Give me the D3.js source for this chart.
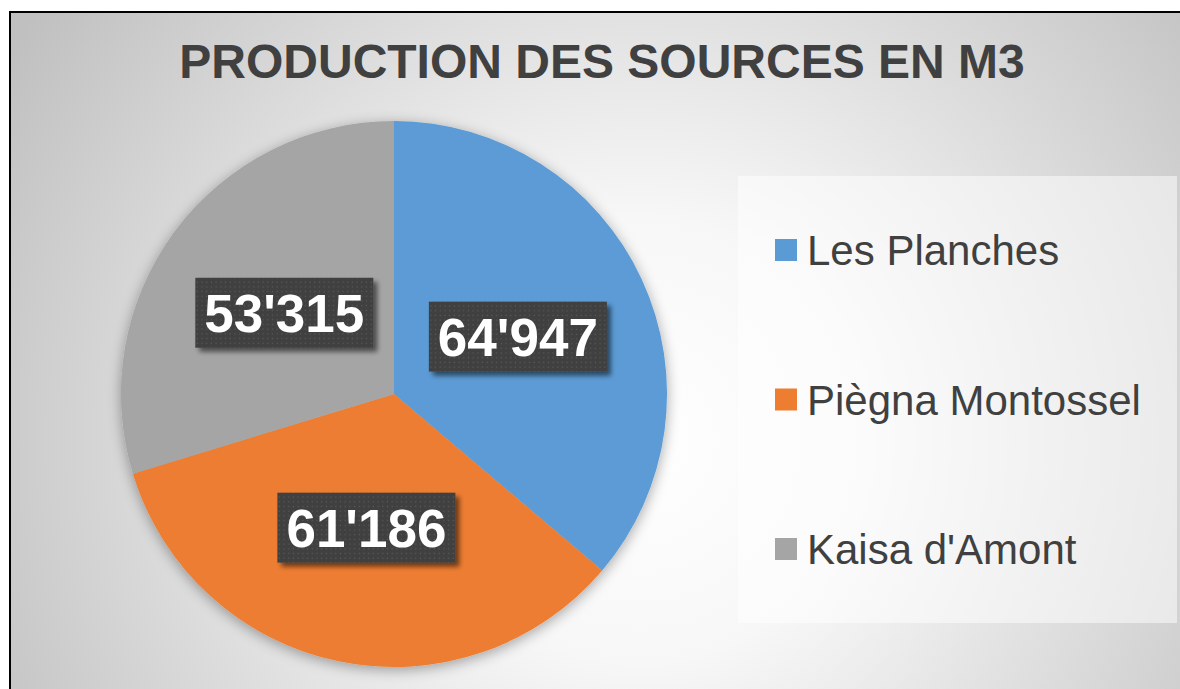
<!DOCTYPE html>
<meta charset="utf-8">
<html>
    <head>
        <title>production des sources</title>
        <script src="https://d3js.org/d3.v7.min.js"></script>
        <style>
            body { margin: 0; }
            svg { display: block; }
        </style>
    </head>

   <body>
       <div id="chart"></div>

       <script type="text/javascript">
           /* chart data */
           var sources = ["Les Planches", "Piègna Montossel", "Kaisa d'Amont"];
           var volumes = [64947, 61186, 53315];
           var colors = ["#5b9bd5", "#ed7d31", "#a5a5a5"];
           var title = "PRODUCTION DES SOURCES EN M3";

           /* layout parameters */
           var totalWidth = 1180,
               totalHeight = 689,
               center = {x: 394, y: 394},
               radius = 273,
               label_box = {width: 178, height: 70},
               legend_box = {x: 738, y: 176, width: 439, height: 447},
               legend_first = 250,
               legend_step = 149.5;

           var fmt = d3.formatLocale({decimal: ".", thousands: "'", grouping: [3], currency: ["", ""]}).format(",d");

           var svg = d3.select("#chart").append("svg")
                .attr("width", totalWidth)
                .attr("height", totalHeight);

           var defs = svg.append("defs");

           /* background gradient */
           var grad = defs.append("radialGradient")
                .attr("id", "bg")
                .attr("gradientUnits", "userSpaceOnUse")
                .attr("cx", 640).attr("cy", 440).attr("r", 740);
           grad.append("stop").attr("offset", "0").attr("stop-color", "#ffffff");
           grad.append("stop").attr("offset", "0.3").attr("stop-color", "#f7f7f7");
           grad.append("stop").attr("offset", "1").attr("stop-color", "#c0c0c0");

           /* soft shadow round the pie */
           var glow = defs.append("filter").attr("id", "glow")
                .attr("x", "-20%").attr("y", "-20%").attr("width", "140%").attr("height", "140%");
           glow.append("feGaussianBlur").attr("in", "SourceAlpha").attr("stdDeviation", 7).attr("result", "blur");
           glow.append("feOffset").attr("in", "blur").attr("dy", 3).attr("result", "off");
           glow.append("feComponentTransfer").attr("in", "off").attr("result", "shade")
                .append("feFuncA").attr("type", "linear").attr("slope", 0.35);
           var gm = glow.append("feMerge");
           gm.append("feMergeNode").attr("in", "shade");
           gm.append("feMergeNode").attr("in", "SourceGraphic");

           /* shadow of the label boxes */
           var drop = defs.append("filter").attr("id", "drop")
                .attr("x", "-20%").attr("y", "-20%").attr("width", "150%").attr("height", "160%");
           drop.append("feGaussianBlur").attr("in", "SourceAlpha").attr("stdDeviation", 2.5).attr("result", "blur");
           drop.append("feOffset").attr("in", "blur").attr("dx", 4).attr("dy", 4).attr("result", "off");
           drop.append("feComponentTransfer").attr("in", "off").attr("result", "shade")
                .append("feFuncA").attr("type", "linear").attr("slope", 0.55);
           var dm = drop.append("feMerge");
           dm.append("feMergeNode").attr("in", "shade");
           dm.append("feMergeNode").attr("in", "SourceGraphic");

           /* dotted dark pattern for the labels */
           var pat = defs.append("pattern")
                .attr("id", "dots")
                .attr("patternUnits", "userSpaceOnUse")
                .attr("width", 4.7).attr("height", 4.7);
           pat.append("rect").attr("width", 4.7).attr("height", 4.7).attr("fill", "#3f3f3f");
           pat.append("rect").attr("x", 1.6).attr("y", 1.6).attr("width", 1.4).attr("height", 1.4).attr("fill", "#585858");

           /* background and border */
           svg.append("rect")
                .attr("x", 0).attr("y", 0)
                .attr("width", totalWidth).attr("height", totalHeight)
                .attr("fill", "#ffffff");
           svg.append("rect")
                .attr("x", 10).attr("y", 12)
                .attr("width", totalWidth + 20).attr("height", totalHeight + 20)
                .attr("fill", "url(#bg)")
                .attr("stroke", "#000000")
                .attr("stroke-width", 2);

           /* title */
           svg.append("text")
                .attr("x", 602)
                .attr("y", 78)
                .attr("text-anchor", "middle")
                .attr("font-family", "'Liberation Sans', Arial, sans-serif")
                .attr("font-weight", "bold")
                .attr("font-size", "48px")
                .attr("fill", "#404040")
                .text(title);

           /* pie */
           var pie = d3.pie().sort(null).value(function(d){ return d; });
           var arcs = pie(volumes);
           var arc = d3.arc().innerRadius(0).outerRadius(radius);

           var g = svg.append("g")
                .attr("transform", "translate(" + center.x + "," + center.y + ")");

           g.append("g")
                .attr("filter", "url(#glow)")
                .selectAll("path")
                .data(arcs)
                .enter().append("path")
                .attr("d", arc)
                .attr("fill", function(d, i){ return colors[i]; });

           /* value labels */
           var labels = g.selectAll(".label")
                .data(arcs)
                .enter().append("g")
                .attr("class", "label")
                .attr("transform", function(d){ var c = arc.centroid(d); return "translate(" + c[0] + "," + c[1] + ")"; });

           labels.append("rect")
                .attr("x", -label_box.width / 2)
                .attr("y", -label_box.height / 2)
                .attr("width", label_box.width)
                .attr("height", label_box.height)
                .attr("fill", "url(#dots)")
                .attr("filter", "url(#drop)");

           labels.append("text")
                .attr("text-anchor", "middle")
                .attr("y", 19)
                .attr("font-family", "'Liberation Sans', Arial, sans-serif")
                .attr("font-weight", "bold")
                .attr("font-size", "53px")
                .attr("fill", "#ffffff")
                .text(function(d){ return fmt(d.data); });

           /* legend */
           svg.append("rect")
                .attr("x", legend_box.x)
                .attr("y", legend_box.y)
                .attr("width", legend_box.width)
                .attr("height", legend_box.height)
                .attr("fill", "#ffffff")
                .attr("fill-opacity", 0.5);

           var legend = svg.append("g").selectAll(".legend")
                .data(sources)
                .enter().append("g")
                .attr("class", "legend")
                .attr("transform", function(d, i){ return "translate(775," + (legend_first + i * legend_step) + ")"; });

           legend.append("rect")
                .attr("x", 0).attr("y", -11)
                .attr("width", 22).attr("height", 22)
                .attr("fill", function(d, i){ return colors[i]; });

           legend.append("text")
                .attr("x", 32)
                .attr("y", 15)
                .attr("font-family", "'Liberation Sans', Arial, sans-serif")
                .attr("font-size", "42px")
                .attr("fill", "#404040")
                .text(function(d){ return d; });
        </script>
    </body>
</html>
